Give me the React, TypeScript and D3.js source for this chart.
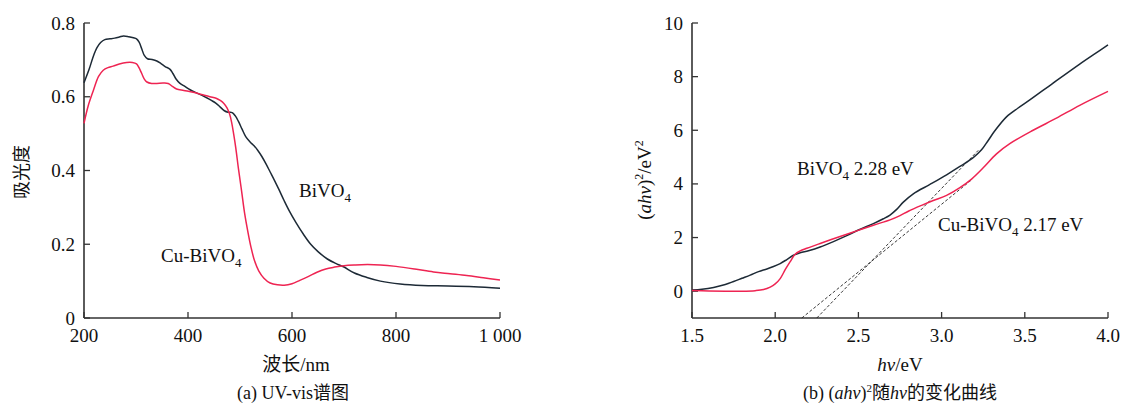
import React from 'react';
import * as d3 from 'd3';

// (a) UV-vis absorbance: [wavelength nm, absorbance]
const uvBiVO4: [number, number][] = [
  [200, 0.638], [210, 0.675], [218, 0.71], [225, 0.733], [232, 0.747], [240, 0.755], [250, 0.757],
  [259, 0.759], [268, 0.762], [276, 0.765], [286, 0.763], [295, 0.76], [301, 0.757], [306, 0.748],
  [311, 0.73], [316, 0.712], [322, 0.703], [331, 0.701], [340, 0.697], [348, 0.69], [356, 0.682],
  [365, 0.675], [371, 0.663], [377, 0.648], [384, 0.637], [394, 0.628], [404, 0.619], [414, 0.612],
  [425, 0.605], [435, 0.598], [445, 0.59], [454, 0.582], [462, 0.572], [470, 0.562], [477, 0.558],
  [485, 0.557], [491, 0.548], [497, 0.533], [504, 0.512], [511, 0.492], [519, 0.478], [527, 0.467],
  [534, 0.455], [542, 0.438], [550, 0.418], [558, 0.396], [566, 0.374], [575, 0.348], [585, 0.318],
  [595, 0.29], [608, 0.258], [622, 0.227], [636, 0.2], [650, 0.18], [668, 0.16], [684, 0.148],
  [699, 0.139], [720, 0.122], [744, 0.11], [770, 0.1], [808, 0.092], [850, 0.088], [900, 0.087],
  [950, 0.085], [1000, 0.081]
];

const uvCuBiVO4: [number, number][] = [
  [200, 0.528], [208, 0.575], [218, 0.617], [228, 0.655], [237, 0.672], [246, 0.679], [256, 0.683],
  [268, 0.689], [282, 0.693], [293, 0.693], [301, 0.689], [306, 0.678], [311, 0.663], [316, 0.648],
  [321, 0.64], [330, 0.636], [340, 0.636], [352, 0.637], [362, 0.636], [370, 0.628], [378, 0.621],
  [392, 0.617], [410, 0.612], [426, 0.606], [442, 0.6], [454, 0.596], [462, 0.59], [469, 0.582],
  [475, 0.57], [480, 0.553], [484, 0.53], [488, 0.497], [492, 0.46], [497, 0.405], [503, 0.345],
  [509, 0.283], [515, 0.235], [521, 0.193], [528, 0.155], [536, 0.128], [546, 0.108], [558, 0.095],
  [572, 0.09], [585, 0.089], [600, 0.093], [615, 0.102], [632, 0.113], [648, 0.124], [665, 0.133],
  [682, 0.138], [700, 0.142], [722, 0.144], [745, 0.145], [770, 0.144], [800, 0.14], [836, 0.133],
  [872, 0.125], [904, 0.12], [936, 0.115], [968, 0.109], [1000, 0.103]
];

// (b) Tauc plot: [hv eV, (ahv)^2]
const taucBiVO4: [number, number][] = [
  [1.5, 0.04], [1.56, 0.07], [1.63, 0.14], [1.7, 0.25], [1.75, 0.36], [1.8, 0.48], [1.85, 0.6],
  [1.9, 0.73], [1.95, 0.83], [1.99, 0.92], [2.03, 1.03], [2.07, 1.18], [2.11, 1.34], [2.15, 1.43],
  [2.2, 1.51], [2.27, 1.65], [2.35, 1.85], [2.43, 2.07], [2.5, 2.28], [2.59, 2.52], [2.65, 2.7],
  [2.69, 2.84], [2.73, 3.05], [2.77, 3.32], [2.83, 3.63], [2.93, 3.98], [3.03, 4.34], [3.11, 4.65],
  [3.19, 4.98], [3.24, 5.27], [3.28, 5.62], [3.32, 5.98], [3.39, 6.5], [3.46, 6.83], [3.53, 7.13],
  [3.67, 7.76], [3.83, 8.47], [3.92, 8.85], [4.0, 9.18]
];

const taucCuBiVO4: [number, number][] = [
  [1.5, 0.03], [1.6, 0.01], [1.7, 0.0], [1.8, 0.0], [1.88, 0.02], [1.93, 0.06], [1.97, 0.15],
  [2.0, 0.27], [2.03, 0.47], [2.06, 0.8], [2.09, 1.1], [2.12, 1.38], [2.15, 1.5], [2.19, 1.6],
  [2.27, 1.78], [2.39, 2.04], [2.49, 2.25], [2.59, 2.46], [2.69, 2.66], [2.75, 2.82], [2.8, 2.98],
  [2.88, 3.2], [2.95, 3.38], [3.03, 3.57], [3.11, 3.86], [3.18, 4.18], [3.25, 4.6], [3.33, 5.12],
  [3.41, 5.5], [3.55, 6.0], [3.69, 6.45], [3.83, 6.93], [4.0, 7.45]
];

const tangentBiVO4: [number, number][] = [[2.25, -1], [3.22, 5.25]];
const tangentCuBiVO4: [number, number][] = [[2.16, -1], [3.18, 4.15]];

const xTicksA = [200, 400, 600, 800, 1000];
const xTickLabelsA = ['200', '400', '600', '800', '1 000'];
const yTicksA = [0, 0.2, 0.4, 0.6, 0.8];
const yTickLabelsA = ['0', '0.2', '0.4', '0.6', '0.8'];
const xTicksB = [1.5, 2.0, 2.5, 3.0, 3.5, 4.0];
const xTickLabelsB = ['1.5', '2.0', '2.5', '3.0', '3.5', '4.0'];
const yTicksB = [0, 2, 4, 6, 8, 10];
const yTickLabelsB = ['0', '2', '4', '6', '8', '10'];

const DARK = '#1d2a36';
const RED = '#ee2452';
const AXIS = '#333333';
const SERIF = "'Liberation Serif', 'Times New Roman', 'Noto Sans CJK SC', serif";
const FS = 19;

function Axes({ x, y, xt, xl, yt, yl }: any) {
  const [x0, x1] = x.range();
  const [y0, y1] = y.range();
  return (
    <g>
      <line x1={x0} x2={x1} y1={y0} y2={y0} stroke={AXIS} strokeWidth={1.6} />
      <line x1={x0} x2={x0} y1={y0} y2={y1} stroke={AXIS} strokeWidth={1.6} />
      {xt.map((t: number, i: number) => (
        <g key={'x' + i}>
          <line x1={x(t)} x2={x(t)} y1={y0} y2={y0 - 6} stroke={AXIS} strokeWidth={1.3} />
          <text x={x(t)} y={y0 + 24} textAnchor="middle" fontSize={FS} fontFamily={SERIF} fill="#111">{xl[i]}</text>
        </g>
      ))}
      {yt.map((t: number, i: number) => (
        <g key={'y' + i}>
          <line x1={x0} x2={x0 + 6} y1={y(t)} y2={y(t)} stroke={AXIS} strokeWidth={1.3} />
          <text x={x0 - 9} y={y(t) + 6.5} textAnchor="end" fontSize={FS} fontFamily={SERIF} fill="#111">{yl[i]}</text>
        </g>
      ))}
    </g>
  );
}

export default function App() {
  const W = 1123, H = 406;
  const xA = d3.scaleLinear().domain([200, 1000]).range([84, 500]);
  const yA = d3.scaleLinear().domain([0, 0.8]).range([318, 23]);
  const xB = d3.scaleLinear().domain([1.5, 4.0]).range([692, 1108]);
  const yB = d3.scaleLinear().domain([-1, 10]).range([318, 23]);

  const lineA = d3.line<[number, number]>().x(d => xA(d[0])).y(d => yA(d[1])).curve(d3.curveCatmullRom.alpha(0.5));
  const lineB = d3.line<[number, number]>().x(d => xB(d[0])).y(d => yB(d[1])).curve(d3.curveCatmullRom.alpha(0.5));
  const lineStraight = d3.line<[number, number]>().x(d => xB(d[0])).y(d => yB(d[1]));

  return (
    <svg width={W} height={H} style={{ position: 'absolute', left: 0, top: 0, background: '#fff' }}>
      <rect width={W} height={H} fill="#fff" />
      {/* Chart (a) */}
      <Axes x={xA} y={yA} xt={xTicksA} xl={xTickLabelsA} yt={yTicksA} yl={yTickLabelsA} />
      <path d={lineA(uvBiVO4) || ''} fill="none" stroke={DARK} strokeWidth={1.5} />
      <path d={lineA(uvCuBiVO4) || ''} fill="none" stroke={RED} strokeWidth={1.5} />
      <text x={299} y={197} fontSize={FS} fontFamily={SERIF} fill="#111">BiVO<tspan fontSize={13} dy={5}>4</tspan></text>
      <text x={161} y={262} fontSize={FS} fontFamily={SERIF} fill="#111">Cu-BiVO<tspan fontSize={13} dy={5}>4</tspan></text>
      <text transform="translate(28,172) rotate(-90)" textAnchor="middle" fontSize={18} fontFamily={SERIF} fill="#111">吸光度</text>
      <text x={296} y={371} textAnchor="middle" fontSize={FS} fontFamily={SERIF} fill="#111">波长/nm</text>
      <text x={293} y={399} textAnchor="middle" fontSize={18} fontFamily={SERIF} fill="#111">(a) UV-vis谱图</text>

      {/* Chart (b) */}
      <Axes x={xB} y={yB} xt={xTicksB} xl={xTickLabelsB} yt={yTicksB} yl={yTickLabelsB} />
      <path d={lineStraight(tangentBiVO4) || ''} fill="none" stroke="#222" strokeWidth={0.9} strokeDasharray="3,2" />
      <path d={lineStraight(tangentCuBiVO4) || ''} fill="none" stroke="#222" strokeWidth={0.9} strokeDasharray="3,2" />
      <path d={lineB(taucBiVO4) || ''} fill="none" stroke={DARK} strokeWidth={1.5} />
      <path d={lineB(taucCuBiVO4) || ''} fill="none" stroke={RED} strokeWidth={1.5} />
      <text x={797} y={175} fontSize={FS} fontFamily={SERIF} fill="#111">BiVO<tspan fontSize={13} dy={5}>4</tspan><tspan dy={-5}> 2.28 eV</tspan></text>
      <text x={938} y={231} fontSize={FS} fontFamily={SERIF} fill="#111">Cu-BiVO<tspan fontSize={13} dy={5}>4</tspan><tspan dy={-5}> 2.17 eV</tspan></text>
      <text transform="translate(651,180) rotate(-90)" textAnchor="middle" fontSize={FS} fontFamily={SERIF} fill="#111">
        (<tspan fontStyle="italic">ahv</tspan>)<tspan fontSize={12} dy={-8}>2</tspan><tspan dy={8}>/eV</tspan><tspan fontSize={12} dy={-8}>2</tspan>
      </text>
      <text x={900} y={371} textAnchor="middle" fontSize={FS} fontFamily={SERIF} fill="#111"><tspan fontStyle="italic">hv</tspan>/eV</text>
      <text x={900} y={399} textAnchor="middle" fontSize={18} fontFamily={SERIF} fill="#111">
        (b) (<tspan fontStyle="italic">ahv</tspan>)<tspan fontSize={11} dy={-7}>2</tspan><tspan dy={7}>随</tspan><tspan fontStyle="italic">hv</tspan>的变化曲线
      </text>
    </svg>
  );
}
